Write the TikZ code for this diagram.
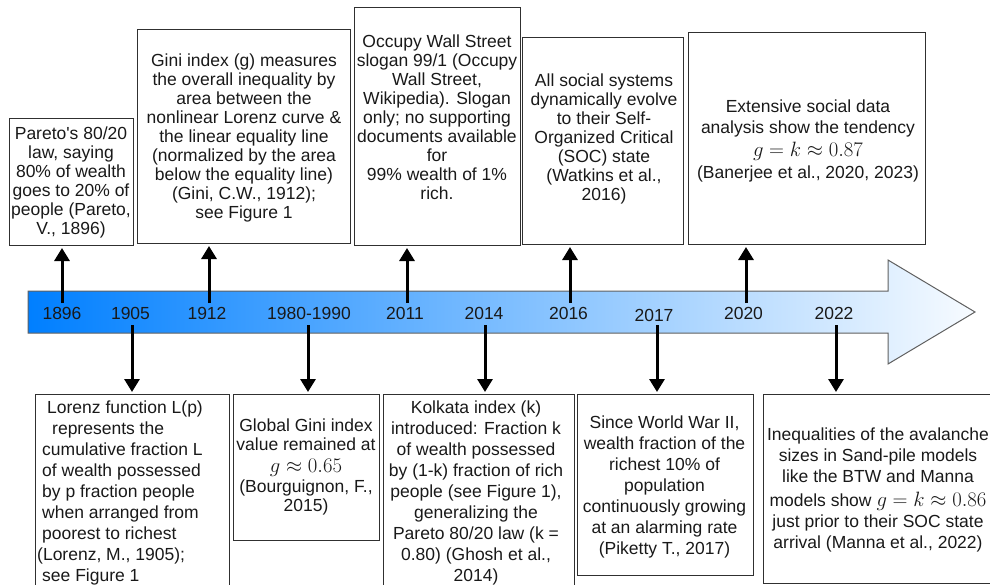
\documentclass[tikz,border=0pt]{standalone}
\usepackage{fontspec}
\setmainfont{Liberation Sans}
\usetikzlibrary{arrows.meta}
\definecolor{outl}{HTML}{606060}
\definecolor{boxl}{HTML}{303030}
\definecolor{blueL}{HTML}{007FFF}
\definecolor{blueR}{HTML}{F7FBFF}
\newcommand{\mymath}[1]{{\fontsize{20}{19}\selectfont$#1$}}
\begin{document}
\begin{tikzpicture}[x=1pt,y=-1pt,
  box/.style={draw=boxl, line width=1pt, inner sep=0pt, outer sep=0pt},
  txt/.style={font=\fontsize{17.5}{19}\selectfont, align=center, inner sep=0pt, text=black!90},
  txtb/.style={txt, font=\fontsize{17.5}{21}\selectfont},
  yr/.style={font=\fontsize{17.5}{19}\selectfont, inner sep=0pt, text=black!90},
  arr/.style={line width=3pt, -{Triangle[width=15pt,length=13pt]}}]
\useasboundingbox (0,0) rectangle (990,584);
\clip (0,0) rectangle (990,584);

% timeline arrow
\shade[left color=blueL, right color=blueR, draw=outl, line width=1pt]
  (28,291) -- (888,291) -- (888,260) -- (975,312) -- (888,364) -- (888,333) -- (28,333) -- cycle;

% year labels
\node[yr] (l1896) at (62,313) {1896};
\node[yr] (l1905) at (130.5,313) {1905};
\node[yr] (l1912) at (207,313) {1912};
\node[yr] (l1980) at (309,313) {1980-1990};
\node[yr] (l2011) at (405,313) {2011};
\node[yr] (l2014) at (484,313) {2014};
\node[yr] (l2016) at (568.5,313) {2016};
\node[yr] (l2017) at (654,315) {2017};
\node[yr] (l2020) at (743.5,313) {2020};
\node[yr] (l2022) at (834,313) {2022};

% top boxes
\node[box, minimum width=124, minimum height=127] (bPareto) at (71,181.5) {};
\node[box, minimum width=213, minimum height=214] (bGini) at (243.5,136) {};
\node[box, minimum width=166, minimum height=238] (bOccupy) at (437,126) {};
\node[box, minimum width=161, minimum height=207] (bSOC) at (602.5,140.5) {};
\node[box, minimum width=237, minimum height=212] (bExt) at (806.5,138) {};

\node[txt] (tPareto) at (71,182) {Pareto\textquotesingle s 80/20\\law, saying\\80\% of wealth\\goes to 20\% of\\people (Pareto,\\V., 1896)};
\node[txt] (tGini) at (244,137.5) {Gini index (g) measures\\the overall inequality by\\area between the\\nonlinear Lorenz curve \&\\the linear equality line\\(normalized by the area\\below the equality line)\\(Gini, C.W., 1912);\\see Figure 1};
\node[txt] (tOccupy) at (437,117) {Occupy Wall Street\\slogan 99/1 (Occupy\\Wall Street,\\Wikipedia). Slogan\\only; no supporting\\documents available\\for\\99\% wealth of 1\%\\rich.};
\node[txt] (tSOC) at (604,139) {All social systems\\dynamically evolve\\to their Self-\\Organized Critical\\(SOC) state\\(Watkins et al.,\\2016)};
\node[txtb] (tExt) at (808,141) {Extensive social data\\analysis show the tendency\\[1.5pt]\mymath{g=k\approx0.87}\\[1.5pt](Banerjee et al., 2020, 2023)};

% bottom boxes
\node[box, minimum width=194, minimum height=216] (bLorenz) at (132,502) {};
\node[box, minimum width=146, minimum height=146] (bGlobal) at (306,467) {};
\node[box, minimum width=191, minimum height=216] (bKolkata) at (478.5,502) {};
\node[box, minimum width=176, minimum height=181] (bPiketty) at (665,484.5) {};
\node[box, minimum width=232, minimum height=189] (bIneq) at (879,488.5) {};

\node[txtb, align=left, anchor=west] (tLorenz) at (37,492.5) {\hspace*{10pt}Lorenz function L(p)\\\hspace*{15pt}represents the\\\hspace*{5pt}cumulative fraction L\\\hspace*{5pt}of wealth possessed\\\hspace*{5pt}by p fraction people\\\hspace*{5pt}when arranged from\\\hspace*{5pt}poorest to richest\\(Lorenz, M., 1905);\\\hspace*{5pt}see Figure 1};
\node[txt] (tGlobal) at (306,467) {Global Gini index\\value remained at\\[3.5pt]\mymath{g\approx0.65}\\[1pt](Bourguignon, F.,\\2015)};
\node[txtb] (tKolkata) at (476,492.5) {Kolkata index (k)\\introduced: Fraction k\\of wealth possessed\\by (1-k) fraction of rich\\people (see Figure 1),\\generalizing the\\Pareto 80/20 law (k =\\0.80) (Ghosh et al.,\\2014)};
\node[txtb] (tPiketty) at (664.5,487) {Since World War II,\\wealth fraction of the\\richest 10\% of\\population\\continuously growing\\at an alarming rate\\(Piketty T., 2017)};
\node[txtb] (tIneq) at (878,490) {Inequalities of the avalanche\\sizes in Sand-pile models\\like the BTW and Manna\\[2.5pt]models show \mymath{g=k\approx0.86}\\[0.5pt]just prior to their SOC state\\arrival (Manna et al., 2022)};

% arrow start points on the bar
\coordinate (c1896) at (62,303);
\coordinate (c1912) at (209,303);
\coordinate (c2011) at (407,303);
\coordinate (c2016) at (570,303);
\coordinate (c2020) at (746,303);
\coordinate (c1905) at (132,325);
\coordinate (c1980) at (308,325);
\coordinate (c2014) at (485,325);
\coordinate (c2017) at (657,325);
\coordinate (c2022) at (836,325);

% up arrows
\draw[arr, shorten >=3pt] (c1896) -- (c1896 |- bPareto.south);
\draw[arr, shorten >=3pt] (c1912) -- (c1912 |- bGini.south);
\draw[arr, shorten >=3pt] (c2011) -- (c2011 |- bOccupy.south);
\draw[arr, shorten >=3pt] (c2016) -- (c2016 |- bSOC.south);
\draw[arr, shorten >=3pt] (c2020) -- (c2020 |- bExt.south);
% down arrows
\draw[arr, shorten >=2pt] (c1905) -- (c1905 |- bLorenz.north);
\draw[arr, shorten >=2pt] (c1980) -- (c1980 |- bGlobal.north);
\draw[arr, shorten >=2pt] (c2014) -- (c2014 |- bKolkata.north);
\draw[arr, shorten >=2pt] (c2017) -- (c2017 |- bPiketty.north);
\draw[arr, shorten >=2pt] (c2022) -- (c2022 |- bIneq.north);
\end{tikzpicture}
\end{document}
